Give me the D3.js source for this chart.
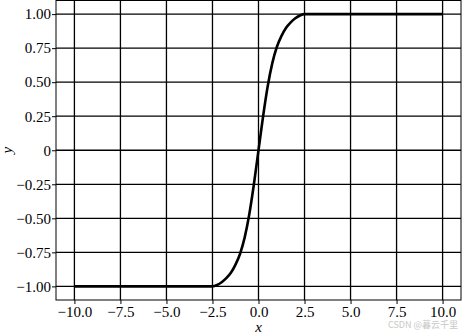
<!DOCTYPE html>
<html>
<head>
<meta charset="utf-8">
<script src="https://cdn.jsdelivr.net/npm/d3@7"></script>
<style>
  html, body { margin: 0; padding: 0; background: #fff; }
  svg { display: block; }
</style>
</head>
<body>
<div id="chart"></div>
<script>
const width = 462,
    height = 336;

// tick values
const xTicks = [-10, -7.5, -5, -2.5, 0, 2.5, 5, 7.5, 10];
const yTicks = [-1, -0.75, -0.5, -0.25, 0, 0.25, 0.5, 0.75, 1];

// curve
const curveX = [-10, -2.5, -2.25, -2, -1.75, -1.5, -1.25, -1, -0.75, -0.5, -0.25, 0,
    0.25, 0.5, 0.75, 1, 1.25, 1.5, 1.75, 2, 2.25, 2.5, 10];
const curveY = [-1, -1, -0.99, -0.97, -0.94, -0.9, -0.84, -0.76, -0.64, -0.47, -0.25, 0,
    0.25, 0.47, 0.64, 0.76, 0.84, 0.9, 0.94, 0.97, 0.99, 1, 1];

const margin = { top: 0.5, right: 1, bottom: 36, left: 56 };

const svg = d3.select("#chart")
    .append("svg")
    .attr("width", width)
    .attr("height", height);

const x = d3.scaleLinear().domain([-11, 11]).range([margin.left, width - margin.right]);
const y = d3.scaleLinear().domain([-1.1, 1.1]).range([height - margin.bottom, margin.top]);

const minus = s => s.replace("-", "\u2212");
const fmtX = d => minus(d3.format(".1f")(d));
const fmtY = d => d === 0 ? "0" : minus(d3.format(".2f")(d));

// grid
svg.append("g").selectAll("line")
    .data(xTicks)
    .enter().append("line")
    .attr("x1", d => x(d)).attr("x2", d => x(d))
    .attr("y1", y(1.1)).attr("y2", y(-1.1))
    .attr("stroke", "#000")
    .attr("stroke-width", 1.3);

svg.append("g").selectAll("line")
    .data(yTicks)
    .enter().append("line")
    .attr("x1", x(-11)).attr("x2", x(11))
    .attr("y1", d => y(d)).attr("y2", d => y(d))
    .attr("stroke", "#000")
    .attr("stroke-width", 1.3);

// curve
const line = d3.line()
    .x((d, i) => x(curveX[i]))
    .y(d => y(d))
    .curve(d3.curveMonotoneX);

svg.append("path")
    .datum(curveY)
    .attr("d", line)
    .attr("fill", "none")
    .attr("stroke", "#000")
    .attr("stroke-width", 2.6);

// frame
svg.append("rect")
    .attr("x", x(-11)).attr("y", y(1.1))
    .attr("width", x(11) - x(-11))
    .attr("height", y(-1.1) - y(1.1))
    .attr("fill", "none")
    .attr("stroke", "#000")
    .attr("stroke-width", 1);

// axes
const xAxis = svg.append("g")
    .attr("transform", `translate(0,${y(-1.1)})`)
    .call(d3.axisBottom(x).tickValues(xTicks).tickFormat(fmtX).tickSize(4).tickSizeOuter(0));

const yAxis = svg.append("g")
    .attr("transform", `translate(${x(-11)},0)`)
    .call(d3.axisLeft(y).tickValues(yTicks).tickFormat(fmtY).tickSize(4).tickSizeOuter(0));

[xAxis, yAxis].forEach(g => {
    g.select(".domain").remove();
    g.selectAll(".tick line").attr("stroke", "#000").attr("stroke-width", 1);
    g.selectAll(".tick text")
        .attr("fill", "#000")
        .style("font-family", "'Liberation Serif', 'Times New Roman', serif")
        .style("font-size", "15px");
});
xAxis.selectAll(".tick text").attr("dy", "0.75em").attr("y", 6);
yAxis.selectAll(".tick text").attr("x", -5);

// axis titles
svg.append("text")
    .attr("x", x(0))
    .attr("y", 332)
    .attr("text-anchor", "middle")
    .style("font-family", "'Liberation Serif', 'Times New Roman', serif")
    .style("font-style", "italic")
    .style("font-size", "15px")
    .text("x");

svg.append("text")
    .attr("transform", `translate(12,${y(0)}) rotate(-90)`)
    .attr("text-anchor", "middle")
    .style("font-family", "'Liberation Serif', 'Times New Roman', serif")
    .style("font-style", "italic")
    .style("font-size", "15px")
    .text("y");

// watermark
svg.append("text")
    .attr("x", 458)
    .attr("y", 328)
    .attr("text-anchor", "end")
    .attr("fill", "#c8c8c8")
    .style("font-family", "'Noto Sans CJK SC', 'Noto Sans', sans-serif")
    .style("font-size", "9px")
    .text("CSDN @暮云千里");
</script>
</body>
</html>
